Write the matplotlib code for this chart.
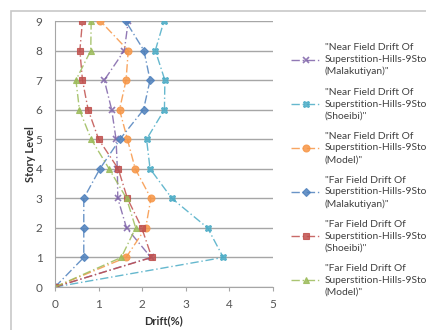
import matplotlib
matplotlib.use("Agg")
import matplotlib.pyplot as plt
from matplotlib.patches import Rectangle

plt.rcParams["font.family"] = ["Lato", "DejaVu Sans"]

levels = [0, 1, 2, 3, 4, 5, 6, 7, 8, 9]

near_malakutiyan = [0, 2.20, 1.64, 1.44, 1.43, 1.40, 1.30, 1.13, 1.59, 1.68]
near_shoeibi     = [0, 3.86, 3.50, 2.68, 2.18, 2.10, 2.51, 2.52, 2.30, 2.50]
near_model       = [0, 1.63, 2.08, 2.20, 1.84, 1.66, 1.48, 1.63, 1.68, 1.04]
far_malakutiyan  = [0, 0.66, 0.66, 0.66, 1.03, 1.49, 2.03, 2.18, 2.04, 1.62]
far_shoeibi      = [0, 2.22, 1.99, 1.66, 1.45, 1.00, 0.76, 0.63, 0.57, 0.63]
far_model        = [0, 1.52, 1.85, 1.64, 1.24, 0.83, 0.56, 0.48, 0.82, 0.83]

labels = [
    '"Near Field Drift Of\nSuperstition-Hills-9Story\n(Malakutiyan)"',
    '"Near Field Drift Of\nSuperstition-Hills-9Story\n(Shoeibi)"',
    '"Near Field Drift Of\nSuperstition-Hills-9Story\n(Model)"',
    '"Far Field Drift Of\nSuperstition-Hills-9Story\n(Malakutiyan)"',
    '"Far Field Drift Of\nSuperstition-Hills-9Story\n(Shoeibi)"',
    '"Far Field Drift Of\nSuperstition-Hills-9Story\n(Model)"',
]
x_ticks = [0, 1, 2, 3, 4, 5]
y_ticks = [0, 1, 2, 3, 4, 5, 6, 7, 8, 9]

series = [near_malakutiyan, near_shoeibi, near_model,
          far_malakutiyan, far_shoeibi, far_model]
colors = ["#7E62A8", "#4BACC6", "#F79646", "#4F81BD", "#C0504D", "#9BBB59"]
markers = ["x", "X", "o", "D", "s", "^"]
msizes = [5, 5, 5, 4, 5, 5]

fig = plt.figure(figsize=(4.26, 3.30), dpi=100)
fig.patches.append(Rectangle((11 / 426, -0.1), 1.2, 1 - 11 / 330 + 0.1,
                             transform=fig.transFigure, fill=False,
                             edgecolor="#C8C8C8", linewidth=1.2))
ax = fig.add_axes([55 / 426, 1 - 287 / 330, (273 - 55) / 426, (287 - 21) / 330])

handles = []
for vals, c, m, ms, lab in zip(series, colors, markers, msizes, labels):
    h, = ax.plot(vals, levels, color=c, linewidth=1.0, dashes=(6, 2, 1, 2),
                 marker=m, markersize=ms, markeredgewidth=1.2 if m == "x" else 0.8,
                 markerfacecolor=c, markeredgecolor=c, label=lab, alpha=0.85)
    handles.append(h)

ax.set_xlim(0, 5)
ax.set_ylim(0, 9)
ax.set_xticks(x_ticks)
ax.set_yticks(y_ticks)
ax.grid(axis="y", color="#A6A6A6", linewidth=1.0)
ax.set_axisbelow(True)
for s in ["top", "right"]:
    ax.spines[s].set_visible(False)
for s in ["left", "bottom"]:
    ax.spines[s].set_color("#A6A6A6")
ax.tick_params(axis="both", colors="#A6A6A6", labelcolor="#555555", labelsize=8.5,
               length=3)
ax.tick_params(axis="x", pad=6)
ax.tick_params(axis="y", length=0, pad=9)
ax.set_xlabel("Drift(%)", fontsize=8, fontweight="bold", color="#333333")
ax.set_ylabel("Story Level", fontsize=8, fontweight="bold", color="#333333")
ax.xaxis.set_label_coords(0.5, -0.105)
ax.yaxis.set_label_coords(-0.087, 0.5)

leg = fig.legend(handles=handles, labels=labels, loc="upper left",
                 bbox_to_anchor=(287 / 426, 1 - 39 / 330), frameon=False,
                 fontsize=7.4, handlelength=2.9, handletextpad=0.35,
                 labelspacing=1.1, labelcolor="#404040", borderaxespad=0)
for t in leg.get_texts():
    t.set_linespacing(1.4)

fig.savefig("out.png", dpi=100)
